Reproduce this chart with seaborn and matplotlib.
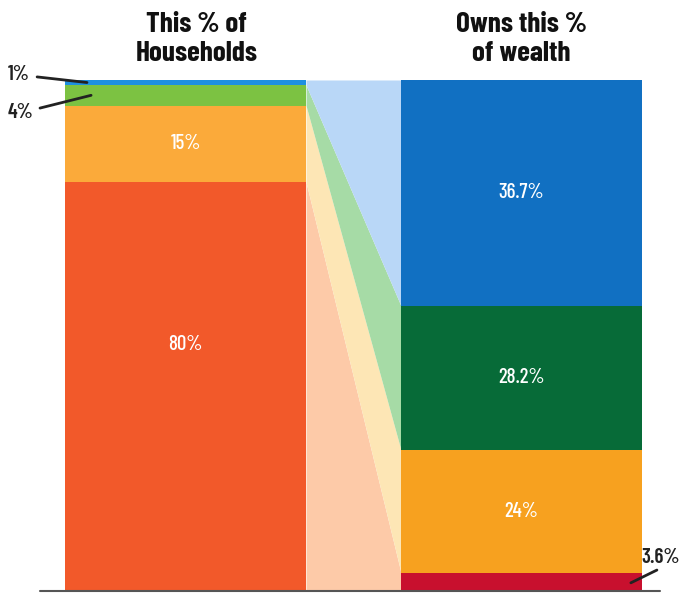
import matplotlib
matplotlib.use("Agg")
import matplotlib.pyplot as plt
from matplotlib import font_manager
import numpy as np
import seaborn as sns

# datos
households = [80, 15, 4, 1]          # de abajo hacia arriba
wealth = [3.6, 24, 28.2, 36.7]
house_labels = ["80%", "15%", "4%", "1%"]
wealth_labels = ["3.6%", "24%", "28.2%", "36.7%"]
house_colors = ["#f2592a", "#fbaa3a", "#7cc242", "#1e90e0"]
wealth_colors = ["#c8102e", "#f7a11f", "#076b38", "#1170c2"]
band_colors = ["#fdcaa8", "#fde6b5", "#a6dba6", "#b9d7f7"]
titles = ["This % of\nHouseholds", "Owns this %\nof wealth"]

sns.set_style("white")
names = {f.name for f in font_manager.fontManager.ttflist}
fam = "DejaVu Sans"
for cand in ["Barlow Condensed", "Roboto Condensed", "Oswald", "Liberation Sans Narrow"]:
    if cand in names:
        fam = cand
        break
plt.rcParams["font.family"] = [fam, "DejaVu Sans"]
narrow = fam != "DejaVu Sans"
k = 1.0 if narrow else 0.75

# la barra de riqueza se dibuja llena: el segmento superior toma el resto
wealth_draw = list(wealth[:-1]) + [100 - sum(wealth[:-1])]

fig = plt.figure(figsize=(6.81, 5.93), dpi=100)
ax = fig.add_axes([0, 0, 1, 1])
ax.set_xlim(-0.770, 2.056)
ax.set_ylim(-0.391, 115.65)
ax.axis("off")

x_left, x_right = 0.0, 1.394
w = 1.0

hb = np.concatenate([[0], np.cumsum(households)])
wb = np.concatenate([[0], np.cumsum(wealth_draw)])

# bandas entre las barras
xs = [x_left + w / 2, x_right - w / 2]
for i in range(4):
    ax.fill_between(xs, [hb[i], wb[i]], [hb[i + 1], wb[i + 1]],
                    color=band_colors[i], linewidth=0, zorder=1)

ax.bar(x_left, households, width=w, bottom=hb[:-1], color=house_colors,
       linewidth=0, zorder=2)
ax.bar(x_right, wealth_draw, width=w, bottom=wb[:-1], color=wealth_colors,
       linewidth=0, zorder=2)

# etiquetas dentro de las barras
label_y_house = [48.3, (hb[1] + hb[2]) / 2]
for lab, y in zip(house_labels[:2], label_y_house):
    ax.text(x_left, y, lab, color="white", ha="center", va="center",
            fontsize=15 * k, fontweight="medium", zorder=3)
for i in range(1, 4):
    ax.text(x_right, (wb[i] + wb[i + 1]) / 2, wealth_labels[i], color="white",
            ha="center", va="center", fontsize=15 * k, fontweight="medium", zorder=3)

# etiquetas laterales con líneas
side = dict(ha="center", va="center", fontsize=15 * k, fontweight="semibold",
            color="#222222")
ax.text(-0.691, 101.0, house_labels[3], **side)
ax.plot([-0.616, -0.409], [100.6, (hb[3] + hb[4]) / 2], color="#222222", lw=2)
ax.text(-0.687, 93.7, house_labels[2], **side)
ax.plot([-0.604, -0.392], [94.5, (hb[2] + hb[3]) / 2], color="#222222", lw=2)
ax.text(1.972, 6.6, wealth_labels[0], **side)
ax.plot([1.848, 1.956], [1.6, 4.1], color="#222222", lw=2)

# títulos
ttl = dict(ha="center", va="center", fontsize=21 * k, fontweight="bold",
           linespacing=1.2, color="#111111")
ax.text(x_left + 0.045, 108.0, titles[0], **ttl)
ax.text(x_right, 108.0, titles[1], **ttl)

# línea base
ax.plot([-0.604, 1.968], [0, 0], color="#555555", lw=1.5, zorder=4)

fig.savefig("out.png", dpi=100)
